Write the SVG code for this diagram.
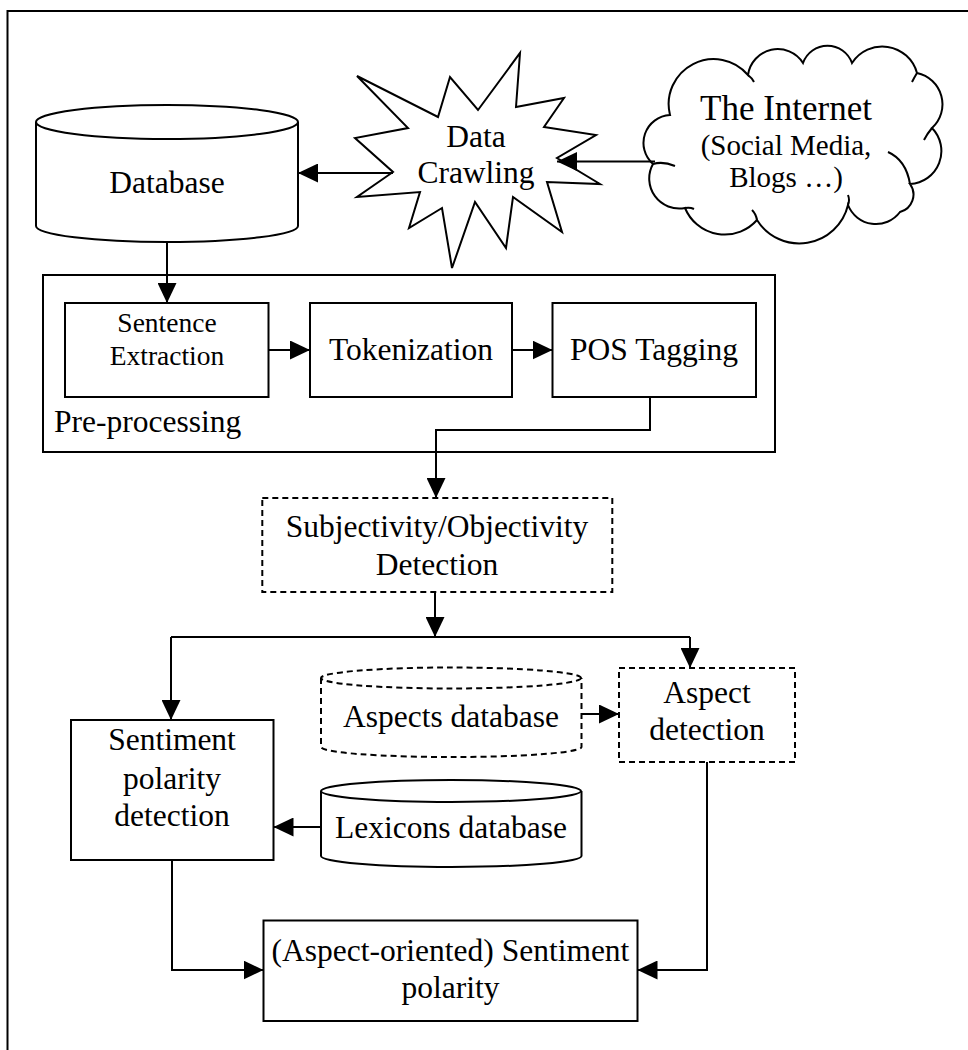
<svg xmlns="http://www.w3.org/2000/svg" width="968" height="1050" viewBox="0 0 968 1050">
<defs>
<marker id="ah" markerUnits="userSpaceOnUse" markerWidth="20" markerHeight="19" refX="20" refY="9.5" orient="auto">
<path d="M0,0 L20,9.5 L0,19 z" fill="#000"/>
</marker>
<style>
.s{fill:#fff;stroke:#000;stroke-width:2}
.d{fill:#fff;stroke:#000;stroke-width:2;stroke-dasharray:6,4}
.l{fill:none;stroke:#000;stroke-width:2}
.c{fill:none;stroke:#000;stroke-width:2;marker-end:url(#ah)}
text{font-family:"Liberation Serif","Times New Roman",serif;font-size:31.5px;fill:#000;text-anchor:middle}
</style>
</defs>
<rect width="968" height="1050" fill="#fff"/>
<path class="l" d="M7.5,1050 L7.5,11 L968,11"/>

<g id="database">
<path class="s" d="M36,122 L36,226 A131,16 0 0 0 298,226 L298,122"/>
<ellipse class="s" cx="167" cy="122" rx="131" ry="17"/>
<text x="167" y="193">Database</text>
</g>

<g id="crawling">
<polygon class="s" points="357,76 438,117 450,77 478,110 520,53 516,107 564,98 544,127 596,135 557,158 600,184 547,182 562,232 513,197 506,248 475,202 452,268 442,208 409,228 420,192 357,197 393,172 355,138 408,128"/>
<text x="476" y="147">Data</text>
<text x="476" y="183">Crawling</text>
</g>

<g id="internet">
<path class="s" d="M670,115 A45,45 0 0 1 748,75 A30,30 0 0 1 803,63 A26,26 0 0 1 852,63 A36,36 0 0 1 917,73 A32,32 0 0 1 932,128 A33,33 0 0 1 910,184 A18,18 0 0 1 900,212 A30,30 0 0 1 848,205 A50,50 0 0 1 757,220 A43,43 0 0 1 685,208 A30,30 0 0 1 653,164 A28,28 0 0 1 670,115 z"/>
<path class="l" d="M653,164 Q663,161 675,166 M888,152 Q906,160 910,184 M848,205 Q850,200 848,195 M757,220 Q756,214 752,210 M685,208 Q690,207 694,209 M748,75 Q752,78 754,82 M917,73 Q914,78 912,82 M932,128 Q927,134 924,140"/>
<text x="786" y="120" style="font-size:35px">The Internet</text>
<text x="786" y="155" style="font-size:29px">(Social Media,</text>
<text x="786" y="187" style="font-size:29px">Blogs …)</text>
</g>

<g id="preprocessing">
<rect class="s" x="43" y="275" width="732" height="177"/>
<text x="54" y="432" style="text-anchor:start">Pre-processing</text>
</g>

<g id="sentence">
<rect class="s" x="65" y="303" width="203.5" height="94"/>
<text x="167" y="332" style="font-size:27.5px">Sentence</text>
<text x="167" y="365" style="font-size:27.5px">Extraction</text>
</g>

<g id="tokenization">
<rect class="s" x="310" y="303" width="202" height="94"/>
<text x="411" y="360">Tokenization</text>
</g>

<g id="pos">
<rect class="s" x="552.5" y="303" width="203.5" height="94"/>
<text x="654" y="360">POS Tagging</text>
</g>

<g id="subjectivity">
<rect class="d" x="262.3" y="498" width="350" height="94"/>
<text x="437" y="537">Subjectivity/Objectivity</text>
<text x="437" y="575">Detection</text>
</g>

<g id="aspectsdb">
<path class="d" d="M321,678 L321,747 A130,10 0 0 0 581.5,747 L581.5,678"/>
<ellipse class="d" cx="451" cy="678" rx="130" ry="10.5"/>
<text x="451" y="727">Aspects database</text>
</g>

<g id="aspectdetection">
<rect class="d" x="619" y="668" width="176" height="94"/>
<text x="707" y="703">Aspect</text>
<text x="707" y="740">detection</text>
</g>

<g id="sentiment">
<rect class="s" x="71" y="720" width="202.5" height="140"/>
<text x="172" y="750">Sentiment</text>
<text x="172" y="789">polarity</text>
<text x="172" y="826">detection</text>
</g>

<g id="lexicons">
<path class="s" d="M321,791 L321,856 A130,11 0 0 0 581.5,856 L581.5,791"/>
<ellipse class="s" cx="451" cy="791" rx="130" ry="11"/>
<text x="451" y="838">Lexicons database</text>
</g>

<g id="final">
<rect class="s" x="263.5" y="920.5" width="374" height="100.5"/>
<text x="450.5" y="961">(Aspect-oriented) Sentiment</text>
<text x="450.5" y="998">polarity</text>
</g>

<g id="connectors">
<path class="c" d="M393,173 L298,173"/>
<path class="c" d="M655,161.5 L557,161.5"/>
<path class="c" d="M167,242 L167,303"/>
<path class="c" d="M268.5,350 L310,350"/>
<path class="c" d="M512,350 L552.5,350"/>
<path class="c" d="M650,397 L650,430 L436,430 L436,498"/>
<path class="c" d="M435,592 L435,637"/>
<path class="l" d="M171,637 L690,637"/>
<path class="c" d="M171,637 L171,720"/>
<path class="c" d="M690,637 L690,668"/>
<path class="c" d="M581.5,714 L619,714"/>
<path class="c" d="M321,827 L273.5,827"/>
<path class="c" d="M172,860 L172,970 L263.5,970"/>
<path class="c" d="M707,762 L707,970 L637.5,970"/>
</g>
</svg>
